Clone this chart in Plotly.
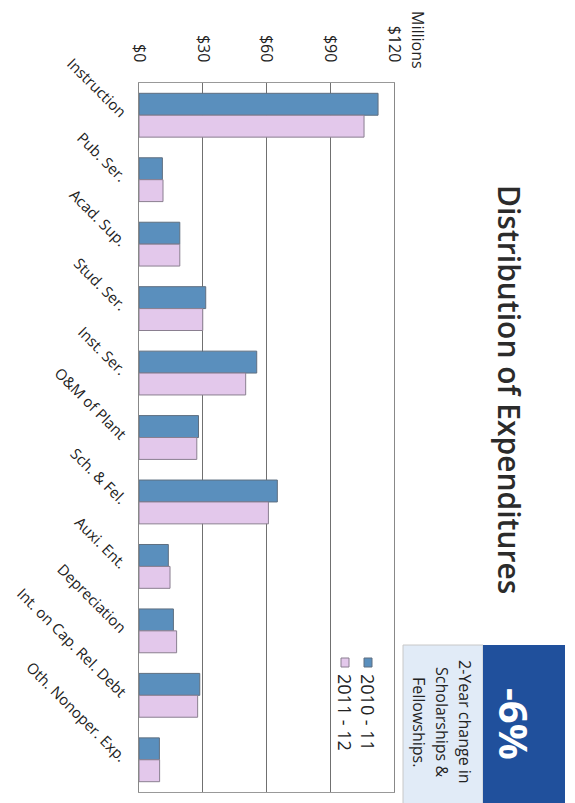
import plotly.graph_objects as go

categories = ["Instruction", "Pub. Ser.", "Acad. Sup.", "Stud. Ser.", "Inst. Ser.",
              "O&M of Plant", "Sch. & Fel.", "Auxi. Ent.", "Depreciation",
              "Int. on Cap. Rel. Debt", "Oth. Nonoper. Exp."]
values_2010_11 = [112.5, 11.0, 19.2, 31.4, 55.4, 28.0, 65.1, 13.8, 16.2, 28.6, 9.6]
values_2011_12 = [105.9, 11.3, 19.2, 30.0, 50.2, 27.2, 60.9, 14.6, 17.7, 27.6, 9.7]
series_names = ["2010 - 11", "2011 - 12"]
tick_values = [0, 30, 60, 90, 120]
tick_labels = ["$0", "$30", "$60", "$90", "$120"]

BLUE = "#5a8fbd"
PINK = "#e3c8eb"
OFF = 8  # page body margin
W, H = 575 - OFF, 803 - OFF
X0, X1, Y0, Y1 = 139, 394, 83, 792  # plot area in page pixels
L, R, T, B = X0 - OFF, 575 - X1, Y0 - OFF, 803 - Y1
PW, PH = X1 - X0, Y1 - Y0


def px(X):
    return (X - X0) / PW


def py(Y):
    return (Y1 - Y) / PH


fig = go.Figure()
fig.add_trace(go.Bar(y=categories, x=values_2010_11, name=series_names[0], orientation="h",
                     marker=dict(color=BLUE, line=dict(color="#5f6f80", width=1))))
fig.add_trace(go.Bar(y=categories, x=values_2011_12, name=series_names[1], orientation="h",
                     marker=dict(color=PINK, line=dict(color="#8a7f90", width=1))))

font_main = "Open Sans"
fig.update_layout(
    width=W, height=H,
    margin=dict(l=L, r=R, t=T, b=B, pad=0, autoexpand=False),
    paper_bgcolor="white", plot_bgcolor="white",
    barmode="group", bargap=0.32, bargroupgap=0.0,
    showlegend=False,
    font=dict(family=font_main, color="#222"),
)
fig.update_xaxes(side="top", range=[0, 120], tickvals=tick_values, ticktext=tick_labels,
                 tickangle=90, tickfont=dict(size=16, color="#222"), automargin=False,
                 showgrid=True, gridcolor="#707070", gridwidth=1,
                 showline=True, linecolor="#999", mirror=True, zeroline=False,
                 ticks="", ticklabelstandoff=14)
fig.update_yaxes(autorange="reversed", tickangle=45, tickfont=dict(size=15, color="#222"),
                 automargin=False,
                 showline=True, linecolor="#888", mirror=True, ticks="", ticklabelstandoff=10)

# info box
fig.add_shape(type="rect", xref="paper", yref="paper", x0=px(403), x1=px(483),
              y0=py(810), y1=py(645), fillcolor="#e1ebf7", line=dict(color="#c8c8c8", width=1), layer="below")
fig.add_shape(type="rect", xref="paper", yref="paper", x0=px(483), x1=px(565),
              y0=py(810), y1=py(645), fillcolor="#20509c", line=dict(width=0), layer="below")

# legend markers
fig.add_shape(type="rect", xref="paper", yref="paper", x0=px(364), x1=px(372),
              y0=py(667), y1=py(658), fillcolor=BLUE, line=dict(color="#5f6f80", width=1))
fig.add_shape(type="rect", xref="paper", yref="paper", x0=px(341), x1=px(349),
              y0=py(667), y1=py(658), fillcolor=PINK, line=dict(color="#8a7f90", width=1))

ann = []
ann.append(dict(text="Distribution of Expenditures", x=px(510), y=py(389), textangle=90,
                font=dict(size=30, color="#2b2b2b", family=font_main, weight=600)))
ann.append(dict(text="Millions", x=px(418), y=py(40), textangle=90,
                font=dict(size=16, color="#222", family=font_main)))
ann.append(dict(text="-6%", x=px(515), y=py(724), textangle=90,
                font=dict(size=40, color="white", family=font_main, weight="bold")))
for txt, xx in [("2-Year change in", 465), ("Scholarships &", 442), ("Fellowships.", 419)]:
    ann.append(dict(text=txt, x=px(xx), y=py(722), textangle=90,
                    font=dict(size=16, color="#222", family=font_main)))
ann.append(dict(text=series_names[0], x=px(368), y=py(712), textangle=90,
                font=dict(size=18, color="#222", family=font_main)))
ann.append(dict(text=series_names[1], x=px(345), y=py(712), textangle=90,
                font=dict(size=18, color="#222", family=font_main)))
for a in ann:
    a.update(xref="paper", yref="paper", showarrow=False, xanchor="center", yanchor="middle")
fig.update_layout(annotations=ann)

fig.write_html("out.html")
